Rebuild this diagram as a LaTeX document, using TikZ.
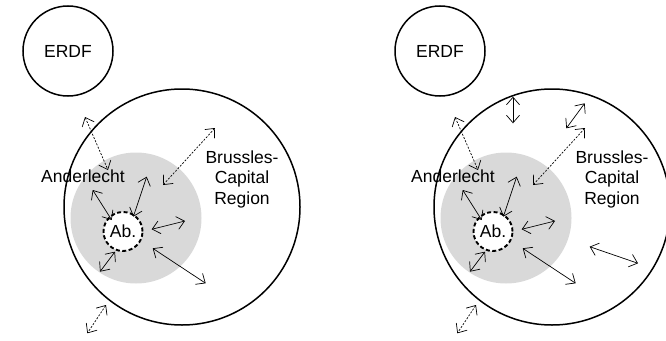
\documentclass[tikz,border=0pt]{standalone}
\usepackage{fontspec}
\setmainfont{Liberation Sans}
\usetikzlibrary{arrows.meta}

\tikzset{
  region/.style={circle, draw, line width=1.5pt, inner sep=0pt},
  link/.style={{Straight Barb[length=7.5pt,width=13pt]}-{Straight Barb[length=7.5pt,width=13pt]}, line width=0.7pt},
  farlink/.style={link, dash pattern=on 2pt off 1.5pt},
}

\begin{document}
\begin{tikzpicture}[x=1pt, y=-1pt, font=\fontsize{17.5}{20.5}\selectfont]
    \useasboundingbox (0,0) rectangle (666,340);

    % left: before
    \node[circle, fill=black!15, minimum size=131pt] at (136,218) (andL) {};
    \node[region, minimum size=236pt] at (182,207) (bcrL) {};
    \node[region, minimum size=90pt] at (68,51) (erdfL) {ERDF};
    \node[circle, draw, fill=white, line width=1.9pt, dash pattern=on 4pt off 2.5pt, minimum size=39pt, inner sep=0pt] at (123,231.5) (abL) {Ab.};
    \node at (83,176) (andtxtL) {Anderlecht};
    \node[align=center] at (242,179) (bcrtxtL) {Brussles-\\Capital\\Region};

    \coordinate (l1a) at (85,117);     \coordinate (l1b) at (108,170);
    \coordinate (l2a) at (215,128);    \coordinate (l2b) at (163,185);
    \coordinate (l3a) at (92.7,190);   \coordinate (l3b) at (111.7,220);
    \coordinate (l4a) at (146.7,176.7);\coordinate (l4b) at (133.3,216.7);
    \coordinate (l5a) at (151.7,229.3);\coordinate (l5b) at (185,221);
    \coordinate (l6a) at (152.7,248.3);\coordinate (l6b) at (205.7,283.3);
    \coordinate (l7a) at (115,251.7);  \coordinate (l7b) at (100,271.7);
    \coordinate (l8a) at (106,305);    \coordinate (l8b) at (87.3,333.3);

    \draw[farlink] (l1a) -- (l1b);
    \draw[farlink] (l2a) -- (l2b);
    \draw[link] (l3a) -- (l3b);
    \draw[link] (l4a) -- (l4b);
    \draw[link] (l5a) -- (l5b);
    \draw[link] (l6a) -- (l6b);
    \draw[link] (l7a) -- (l7b);
    \draw[farlink] (l8a) -- (l8b);

    % right: after
    \node[circle, fill=black!15, minimum size=131pt] at (506,218) (andR) {};
    \node[region, minimum size=236pt] at (552,207) (bcrR) {};
    \node[region, minimum size=90pt] at (440,51) (erdfR) {ERDF};
    \node[circle, draw, fill=white, line width=1.9pt, dash pattern=on 4pt off 2.5pt, minimum size=39pt, inner sep=0pt] at (493,231.5) (abR) {Ab.};
    \node at (453,176) (andtxtR) {Anderlecht};
    \node[align=center] at (612,179) (bcrtxtR) {Brussles-\\Capital\\Region};

    \coordinate (r1a) at (455,117);    \coordinate (r1b) at (478,170);
    \coordinate (r2a) at (585,128);    \coordinate (r2b) at (533,185);
    \coordinate (r3a) at (462.7,190);  \coordinate (r3b) at (481.7,220);
    \coordinate (r4a) at (516.7,176.7);\coordinate (r4b) at (503.3,216.7);
    \coordinate (r5a) at (521.7,229.3);\coordinate (r5b) at (555,221);
    \coordinate (r6a) at (522.7,248.3);\coordinate (r6b) at (575.7,283.3);
    \coordinate (r7a) at (485,251.7);  \coordinate (r7b) at (470,271.7);
    \coordinate (r8a) at (476,305);    \coordinate (r8b) at (457.3,333.3);
    \coordinate (r9a) at (513,96.7);   \coordinate (r9b) at (513,123.3);
    \coordinate (r10a) at (584.7,103.3);\coordinate (r10b) at (566.3,128.3);
    \coordinate (r11a) at (589.7,246.7);\coordinate (r11b) at (638,263.3);

    \draw[farlink] (r1a) -- (r1b);
    \draw[farlink] (r2a) -- (r2b);
    \draw[link] (r3a) -- (r3b);
    \draw[link] (r4a) -- (r4b);
    \draw[link] (r5a) -- (r5b);
    \draw[link] (r6a) -- (r6b);
    \draw[link] (r7a) -- (r7b);
    \draw[farlink] (r8a) -- (r8b);
    \draw[link] (r9a) -- (r9b);
    \draw[link] (r10a) -- (r10b);
    \draw[link] (r11a) -- (r11b);

\end{tikzpicture}
\end{document}
